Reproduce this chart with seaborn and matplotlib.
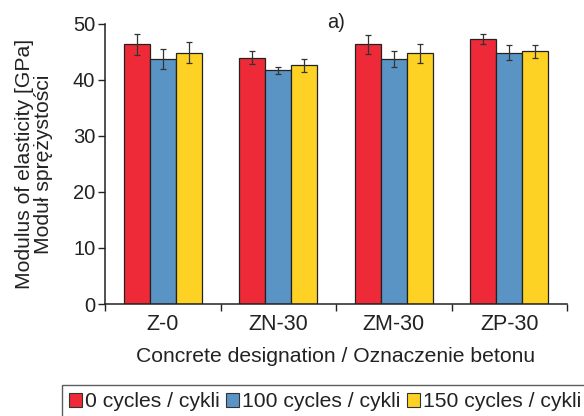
import matplotlib
matplotlib.use("Agg")
import matplotlib.pyplot as plt
import seaborn as sns
import pandas as pd
import numpy as np
from matplotlib.patches import Patch

categories = ["Z-0", "ZN-30", "ZM-30", "ZP-30"]
series = ["0 cycles / cykli", "100 cycles / cykli", "150 cycles / cykli"]
vals_0 = [46.4, 44.0, 46.4, 47.4]
vals_100 = [43.7, 41.7, 43.7, 44.9]
vals_150 = [44.9, 42.6, 44.8, 45.1]
err_0 = [1.9, 1.2, 1.7, 0.9]
err_100 = [1.8, 0.7, 1.4, 1.3]
err_150 = [1.8, 1.1, 1.7, 1.2]
colors = ["#EE2A38", "#5A94C4", "#FED224"]

sns.set_theme(style="ticks")
plt.rcParams["font.family"] = ["Liberation Sans", "DejaVu Sans"]

rows = []
for s, v, e in zip(series, [vals_0, vals_100, vals_150], [err_0, err_100, err_150]):
    for c, vv, ee in zip(categories, v, e):
        rows.append({"cat": c, "series": s, "val": vv, "err": ee})
df = pd.DataFrame(rows)

fig = plt.figure(figsize=(5.84, 4.16), dpi=100)
ax = fig.add_axes([105/584, 1-304/416, (567-105)/584, (304-24)/416])

sns.barplot(data=df, x="cat", y="val", hue="series", hue_order=series, order=categories,
            palette=colors, errorbar=None, width=0.675, saturation=1,
            edgecolor="#222222", linewidth=0.9, ax=ax, legend=False)

# error bars at bar centres
for i, s in enumerate(series):
    cont = ax.containers[i]
    sub = df[df["series"] == s].set_index("cat").loc[categories]
    xs = [p.get_x() + p.get_width()/2 for p in cont.patches]
    ys = [p.get_height() for p in cont.patches]
    ax.errorbar(xs, ys, yerr=sub["err"].values, fmt="none", ecolor="#333333",
                elinewidth=0.9, capsize=2.2, capthick=0.9, zorder=5)

ax.set_ylim(0, 50)
ax.set_xlim(-0.5, 3.5)
ax.set_yticks([0, 10, 20, 30, 40, 50])
ax.set_xticks([-0.5, 0.5, 1.5, 2.5, 3.5])
ax.set_xticklabels([])
ax.set_xticks(range(len(categories)), minor=True)
ax.set_xticklabels(categories, minor=True)
ax.tick_params(axis="x", which="minor", length=0, labelsize=15.5, pad=7, colors="#222222")
ax.tick_params(axis="x", which="major", length=5, width=1, color="#222222")
ax.tick_params(axis="y", length=5, width=1, labelsize=14.5, color="#222222", labelcolor="#222222", pad=2)
for sp in ["left", "bottom"]:
    ax.spines[sp].set_color("#222222")
    ax.spines[sp].set_linewidth(1.1)
sns.despine(ax=ax)

ax.set_xlabel("Concrete designation / Oznaczenie betonu", fontsize=15.2, color="#222222", labelpad=9)
ax.set_ylabel("Modulus of elasticity [GPa]\nModuł sprężystości", fontsize=15.2, color="#222222",
              labelpad=14, linespacing=1.0, multialignment="center")
ax.text(0.5, 1.005, "a)", transform=ax.transAxes, ha="center", va="center", fontsize=14.5, color="#222222")

handles = [Patch(facecolor=c, edgecolor="#333333", linewidth=0.8) for c in colors]
leg = fig.legend(handles, series, loc="upper left", bbox_to_anchor=(62/584, 1-385/416),
                 ncol=3, fontsize=15.2, frameon=True, fancybox=False, handlelength=0.6,
                 handleheight=0.6, handletextpad=0.15, columnspacing=0.3, borderpad=0.35,
                 borderaxespad=0)
leg.get_frame().set_edgecolor("#333333")
leg.get_frame().set_linewidth(1.0)
for t in leg.get_texts():
    t.set_color("#222222")

fig.savefig("out.png", dpi=100)
